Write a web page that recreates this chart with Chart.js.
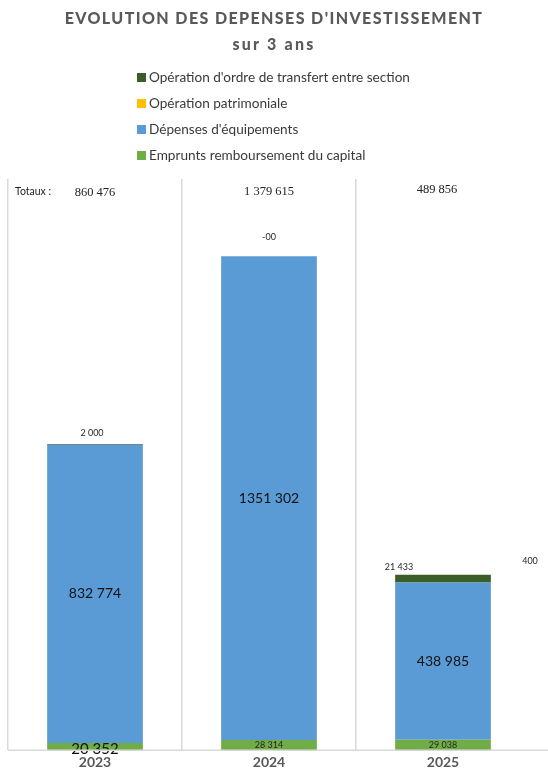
<!DOCTYPE html>
<html lang="fr">
<head>
<meta charset="UTF-8">
<title>Evolution des dépenses d'investissement</title>
<script src="https://cdn.jsdelivr.net/npm/chart.js"></script>
<style>
  body { margin: 0; background: #fff; }
  #wrap { position: relative; width: 548px; height: 777px; }
  #chart { position: absolute; left: 0; top: 0; }
  h1, h2 { position: absolute; left: 0; width: 548px; margin: 0; text-align: center;
           font-family: Lato, sans-serif; font-weight: 900; color: #595959; }
  h1 { top: 8px; font-size: 16px; letter-spacing: 1.4px; }
  h2 { top: 34px; font-size: 16px; letter-spacing: 2.2px; }
  #legend { position: absolute; left: 137px; top: 68px; font-family: Lato, sans-serif;
            font-size: 13.6px; color: #3a3a3a; }
  #legend div { height: 26px; line-height: 18px; white-space: nowrap; }
  #legend span { display: inline-block; width: 9px; height: 9px; margin-right: 3px; vertical-align: 0px; }
</style>
</head>
<body>
<div id="wrap">
  <canvas id="chart" width="548" height="777"></canvas>
  <h1>EVOLUTION DES DEPENSES D'INVESTISSEMENT</h1>
  <h2>sur 3 ans</h2>
  <div id="legend"></div>
</div>
<script>
  // données
  const annees = ['2023', '2024', '2025'];
  const emprunts = [20352, 28314, 29038];
  const equipements = [832774, 1351302, 438985];
  const patrimoniale = [0, 0, 400];
  const ordre = [2000, 0, 21433];
  const totaux = ['860 476', '1 379 615', '489 856'];

  // libellés affichés sur les barres
  const lblEmprunts = ['20 352', '28 314', '29 038'];
  const lblEquipements = ['832 774', '1351 302', '438 985'];
  const lblPatrimoniale = ['', '', '400'];
  const lblOrdre = ['2 000', '-00', '21 433'];

  const series = [
    { label: 'Emprunts remboursement du capital', data: emprunts, color: '#70ad47', lbl: lblEmprunts },
    { label: "Dépenses d'équipements", data: equipements, color: '#5b9bd5', lbl: lblEquipements },
    { label: 'Opération patrimoniale', data: patrimoniale, color: '#ffc000', lbl: lblPatrimoniale },
    { label: "Opération d'ordre de transfert entre section", data: ordre, color: '#3b5e26', lbl: lblOrdre }
  ];

  // légende (ordre inverse, comme l'empilement)
  const leg = document.getElementById('legend');
  series.slice().reverse().forEach(s => {
    const d = document.createElement('div');
    d.innerHTML = '<span style="background:' + s.color + '"></span>' + s.label;
    leg.appendChild(d);
  });

  // position de chaque étiquette : [série][barre] -> mode, dx, dy, taille
  const lblStyle = [
    [{m: 'mid', dy: 3, s: 15}, {m: 'mid', dy: 0, s: 9}, {m: 'mid', dy: 0, s: 9}],
    [{m: 'mid', dy: 0, s: 14}, {m: 'mid', dy: 0, s: 14}, {m: 'mid', dy: 0, s: 14}],
    [null, null, {m: 'top', dx: 87, dy: -21, s: 9}],
    [{m: 'top', dx: -3, dy: -11, s: 9}, {m: 'top', dx: 0, dy: -19, s: 9}, {m: 'left', dx: 18, dy: -8, s: 9}]
  ];

  const labelsPlugin = {
    id: 'labels',
    afterDatasetsDraw(chart) {
      const ctx = chart.ctx;
      ctx.save();
      ctx.textBaseline = 'middle';
      series.forEach((s, i) => {
        const meta = chart.getDatasetMeta(i);
        meta.data.forEach((bar, j) => {
          const st = lblStyle[i][j];
          if (!st || !s.lbl[j]) return;
          ctx.font = st.s + 'px Lato, sans-serif';
          ctx.fillStyle = st.s > 10 ? '#111' : '#262626';
          let x = bar.x + (st.dx || 0), y;
          ctx.textAlign = 'center';
          if (st.m === 'mid') {
            y = (bar.y + bar.base) / 2 + st.dy;
          } else if (st.m === 'left') {
            x = bar.x - bar.width / 2 + (st.dx || 0);
            ctx.textAlign = 'right';
            y = bar.y + st.dy;
          } else {
            y = bar.y + st.dy;
          }
          ctx.fillText(s.lbl[j], x, y);
        });
      });
      // totaux
      const meta0 = chart.getDatasetMeta(0);
      ctx.font = '12.5px "Liberation Serif", serif';
      ctx.fillStyle = '#222';
      ctx.textAlign = 'center';
      const dxTot = [0, 0, -6];
      const dyTot = [193, 192, 190];
      meta0.data.forEach((bar, j) => ctx.fillText(totaux[j], bar.x + dxTot[j], dyTot[j]));
      ctx.font = '10.5px Lato, sans-serif';
      ctx.textAlign = 'left';
      ctx.fillText('Totaux :', 15, 192);
      // prolongement de l'axe horizontal
      const a = chart.chartArea;
      ctx.strokeStyle = '#d9d9d9';
      ctx.lineWidth = 1.5;
      ctx.beginPath();
      ctx.moveTo(a.left, a.bottom);
      ctx.lineTo(548, a.bottom);
      ctx.stroke();
      ctx.restore();
    }
  };

  new Chart(document.getElementById('chart'), {
    type: 'bar',
    data: {
      labels: annees,
      datasets: series.map(s => ({
        label: s.label,
        data: s.data,
        backgroundColor: s.color,
        borderWidth: 0,
        barPercentage: 0.55,
        categoryPercentage: 1
      }))
    },
    options: {
      responsive: false,
      animation: false,
      layout: { padding: { top: 179, left: 8, right: 18, bottom: 2 } },
      plugins: { legend: { display: false }, tooltip: { enabled: false } },
      scales: {
        x: {
          stacked: true,
          grid: {
            offset: true,
            color: ctx => ctx.type === 'tick' ? '#d9d9d9' : 'rgba(0,0,0,0)',
            lineWidth: 1.5,
            drawTicks: false
          },
          border: { display: false },
          ticks: { padding: 4, color: '#595959', font: { family: 'Lato, sans-serif', size: 14, weight: 'bold' } }
        },
        y: { stacked: true, display: false, min: 0, max: 1595000 }
      }
    },
    plugins: [labelsPlugin]
  });
</script>
</body>
</html>
